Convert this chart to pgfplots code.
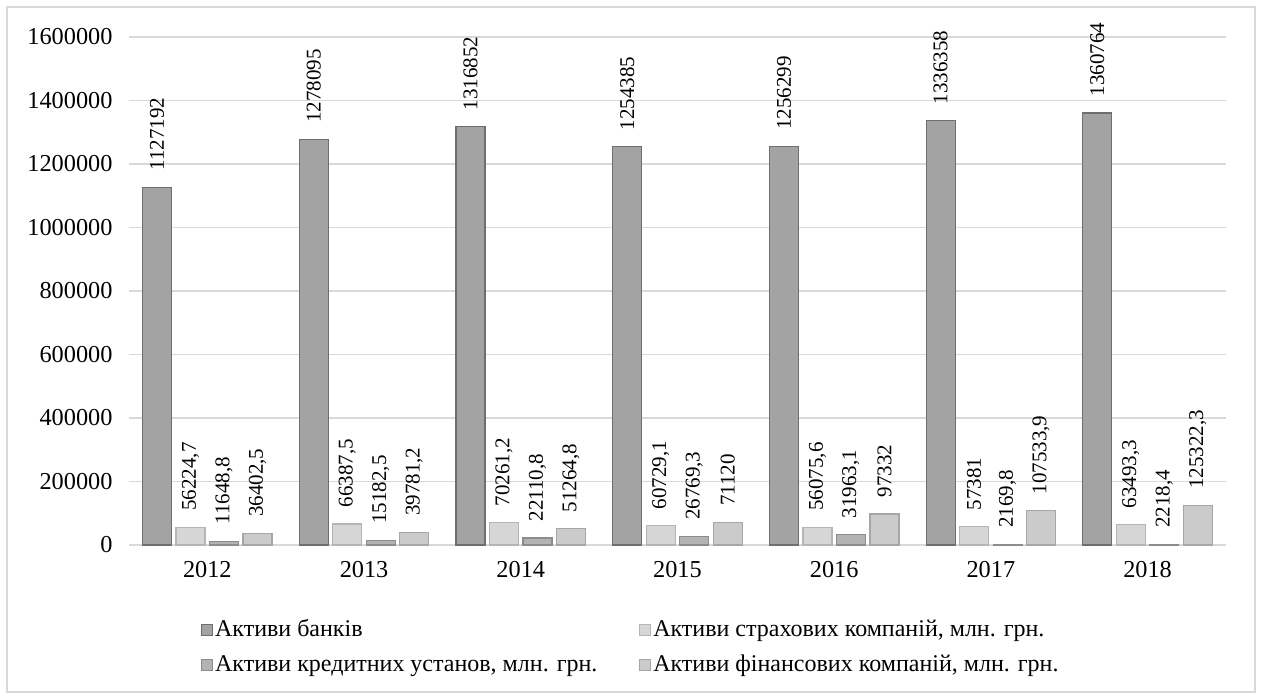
\documentclass[border=0pt]{standalone}
\usepackage{fontspec}
\setmainfont{Liberation Serif}
\usepackage{pgfplots}
\usepackage{pgfplotstable}
\pgfplotsset{compat=1.18}
\definecolor{gridc}{HTML}{D9D9D9}
\definecolor{bankF}{HTML}{A3A3A3}
\definecolor{bankD}{HTML}{6E6E6E}
\definecolor{insF}{HTML}{D6D6D6}
\definecolor{insD}{HTML}{B5B5B5}
\definecolor{credF}{HTML}{B3B3B3}
\definecolor{credD}{HTML}{8C8C8C}
\definecolor{finF}{HTML}{CBCBCB}
\definecolor{finD}{HTML}{A6A6A6}
\pgfplotstableread{
x bank bankL ins insL cred credL fin finL
0 1127192 1127192 56224.7 56224,7 11648.8 11648,8 36402.5 36402,5
1 1278095 1278095 66387.5 66387,5 15182.5 15182,5 39781.2 39781,2
2 1316852 1316852 70261.2 70261,2 22110.8 22110,8 51264.8 51264,8
3 1254385 1254385 60729.1 60729,1 26769.3 26769,3 71120 71120
4 1256299 1256299 56075.6 56075,6 31963.1 31963,1 97332 97332
5 1336358 1336358 57381 57381 2169.8 2169,8 107533.9 107533,9
6 1360764 1360764 63493.3 63493,3 2218.4 2218,4 125322.3 125322,3
}\datatable
\pgfplotsset{
  mybar/.style={fill=#1F, draw=#1D, line width=1.2bp,
    legend image code/.code={\draw[fill=#1F, draw=#1D, line width=0.8bp] (0bp,-5.5bp) rectangle (11bp,5.5bp);}},
}
\begin{document}
\begin{tikzpicture}
\useasboundingbox (-129bp,-153bp) rectangle (1132bp,545bp);
\draw[gridc, line width=1.5bp] (-122bp,-147bp) rectangle (1126bp,538bp);
\begin{axis}[
  at={(0,0)}, anchor=south west,
  scale only axis, width=1097bp, height=508bp,
  ybar=4.5bp, bar width=29bp,
  xmin=-0.5, xmax=6.5, ymin=0, ymax=1600000,
  xtick={0,1,2,3,4,5,6},
  xticklabels={2012,2013,2014,2015,2016,2017,2018},
  ytick={0,200000,400000,600000,800000,1000000,1200000,1400000,1600000},
  scaled y ticks=false,
  yticklabel style={/pgf/number format/fixed, /pgf/number format/1000 sep={}, xshift=-13bp},
  xticklabel style={yshift=-13bp},
  /pgf/number format/assume math mode=true,
  major tick length=0pt,
  axis line style={draw=none},
  ymajorgrids, grid style={gridc, line width=1.2bp},
  tick label style={font=\fontsize{24.3bp}{28bp}\selectfont},
  point meta=explicit symbolic,
  nodes near coords,
  nodes near coords style={rotate=90, anchor=west, font=\fontsize{21bp}{25bp}\selectfont, inner xsep=16bp, inner ysep=0pt},
  legend columns=2,
  legend cell align=left,
  legend style={at={(axis description cs:0.4576,-0.142)}, anchor=north, draw=none, fill=none,
    font=\fontsize{24bp}{28bp}\selectfont,
    nodes={inner xsep=2bp, inner ysep=0pt, text height=17bp, text depth=5bp},
    row sep=13bp,
    /tikz/every even column/.append style={column sep=40bp}},
]
\addplot[mybar=bank] table[x=x, y=bank, meta=bankL] {\datatable};
\addlegendentry{Активи банків}
\addplot[mybar=ins] table[x=x, y=ins, meta=insL] {\datatable};
\addlegendentry{Активи страхових компаній, млн. грн.}
\addplot[mybar=cred] table[x=x, y=cred, meta=credL] {\datatable};
\addlegendentry{Активи кредитних установ, млн. грн.}
\addplot[mybar=fin] table[x=x, y=fin, meta=finL] {\datatable};
\addlegendentry{Активи фінансових компаній, млн. грн.}
\end{axis}
\end{tikzpicture}
\end{document}
